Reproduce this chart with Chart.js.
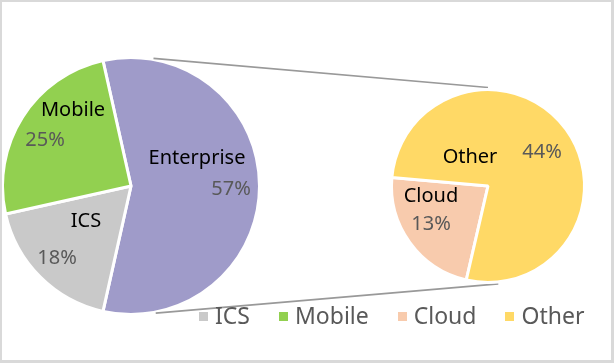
<!DOCTYPE html>
<html>
<head>
<meta charset="utf-8">
<script src="https://cdn.jsdelivr.net/npm/chart.js@4.4.0/dist/chart.umd.min.js"></script>
<style>
html, body { margin: 0; padding: 0; background: #fff; }
#wrap { position: relative; width: 614px; height: 363px; overflow: hidden; font-family: "Noto Sans", sans-serif; }
#wrap canvas { position: absolute; left: 0; top: 0; }
#frame { position: absolute; left: 0; top: 0; width: 614px; height: 363px; box-sizing: border-box;
  border: 2px solid #d9d9d9; border-right-width: 3px; border-bottom-width: 3px; pointer-events: none; }
#legend { position: absolute; left: 199px; top: 300px; display: flex; align-items: center; color: #595959; font-size: 23px; line-height: 30px; }
#legend .item { display: flex; align-items: center; margin-right: 29px; }
#legend .box { width: 9px; height: 9px; margin-right: 7px; margin-top: 2px; }
</style>
</head>
<body>
<div id="wrap">
  <canvas id="mainPie" width="614" height="363"></canvas>
  <canvas id="subPie" width="614" height="363"></canvas>
  <div id="legend"></div>
  <div id="frame"></div>
</div>
<script>
// shares in percent of the whole
var categories = ['ICS', 'Mobile', 'Cloud', 'Other'];
var shares = [18, 25, 13, 44];
var colors = ['#c9c9c9', '#92d050', '#f8cbad', '#ffd966'];

// Cloud + Other are rolled up into Enterprise on the main pie
var groupName = 'Enterprise';
var groupColor = '#9f9bc9';
var subCategories = ['Cloud', 'Other'];
var subShares = [13, 44];
var subColors = ['#f8cbad', '#ffd966'];

var groupShare = subShares[0] + subShares[1];

var mainLabels = [groupName, 'ICS', 'Mobile'];
var mainValues = [groupShare, shares[0], shares[1]];
var mainColors = [groupColor, colors[0], colors[1]];

// label offsets from the pie centre: [nameX, nameY, pctX, pctY]
var mainLabelPos = [[66, -28, 100, 3], [-45, 35, -74, 72], [-58, -76, -86, -46]];
var subLabelPos = [[-57, 10, -57, 38], [-18, -29, 54, -34]];

var sliceLabels = {
    id: 'sliceLabels',
    afterDatasetsDraw: function(chart, args, opts) {
        var ctx = chart.ctx;
        var arcs = chart.getDatasetMeta(0).data;
        var names = chart.data.labels;
        var vals = chart.data.datasets[0].data;
        ctx.save();
        ctx.textAlign = 'center';
        ctx.textBaseline = 'middle';
        ctx.font = '20px "Noto Sans"';
        arcs.forEach(function(arc, i) {
            var p = opts.pos[i];
            ctx.fillStyle = '#000000';
            ctx.fillText(names[i], arc.x + p[0], arc.y + p[1]);
            ctx.fillStyle = '#595959';
            ctx.fillText(vals[i] + '%', arc.x + p[2], arc.y + p[3]);
        });
        ctx.restore();
    }
};

var mainChart = new Chart(document.getElementById('mainPie').getContext('2d'), {
    type: 'pie',
    data: {
        labels: mainLabels,
        datasets: [{
            data: mainValues,
            backgroundColor: mainColors,
            borderColor: '#ffffff',
            borderWidth: 3
        }]
    },
    options: {
        responsive: false,
        animation: false,
        // Enterprise slice centred on 3 o'clock
        rotation: 90 - groupShare / 100 * 360 / 2,
        layout: { padding: { left: 1, top: 56, right: 353, bottom: 47 } },
        plugins: {
            legend: { display: false },
            tooltip: { enabled: false },
            sliceLabels: { pos: mainLabelPos }
        }
    },
    plugins: [sliceLabels]
});

// lines joining the two pies, drawn under the sub pie
var connectors = {
    id: 'connectors',
    beforeDatasetsDraw: function(chart) {
        var ctx = chart.ctx;
        var a = mainChart.getDatasetMeta(0).data[0];
        var b = chart.getDatasetMeta(0).data[0];
        var ra = a.outerRadius + 1, rb = b.outerRadius + 2;
        var d = Math.PI / 180;
        ctx.save();
        ctx.strokeStyle = '#999999';
        ctx.lineWidth = 1.7;
        ctx.beginPath();
        ctx.moveTo(a.x + ra * Math.cos(-80 * d), a.y + ra * Math.sin(-80 * d));
        ctx.lineTo(b.x + rb * Math.cos(-90 * d), b.y + rb * Math.sin(-90 * d));
        ctx.moveTo(a.x + ra * Math.cos(79 * d), a.y + ra * Math.sin(79 * d));
        ctx.lineTo(b.x + rb * Math.cos(84 * d), b.y + rb * Math.sin(84 * d));
        ctx.stroke();
        ctx.restore();
    }
};

var subChart = new Chart(document.getElementById('subPie').getContext('2d'), {
    type: 'pie',
    data: {
        labels: subCategories,
        datasets: [{
            data: subShares,
            backgroundColor: subColors,
            borderColor: '#ffffff',
            borderWidth: 3
        }]
    },
    options: {
        responsive: false,
        animation: false,
        rotation: 193,
        layout: { padding: { left: 390, top: 88, right: 28, bottom: 79 } },
        plugins: {
            legend: { display: false },
            tooltip: { enabled: false },
            sliceLabels: { pos: subLabelPos }
        }
    },
    plugins: [connectors, sliceLabels]
});

// legend
var legendEl = document.getElementById('legend');
categories.forEach(function(name, i) {
    var item = document.createElement('div');
    item.className = 'item';
    var box = document.createElement('span');
    box.className = 'box';
    box.style.background = colors[i];
    var txt = document.createElement('span');
    txt.textContent = name;
    item.appendChild(box);
    item.appendChild(txt);
    legendEl.appendChild(item);
});
</script>
</body>
</html>
